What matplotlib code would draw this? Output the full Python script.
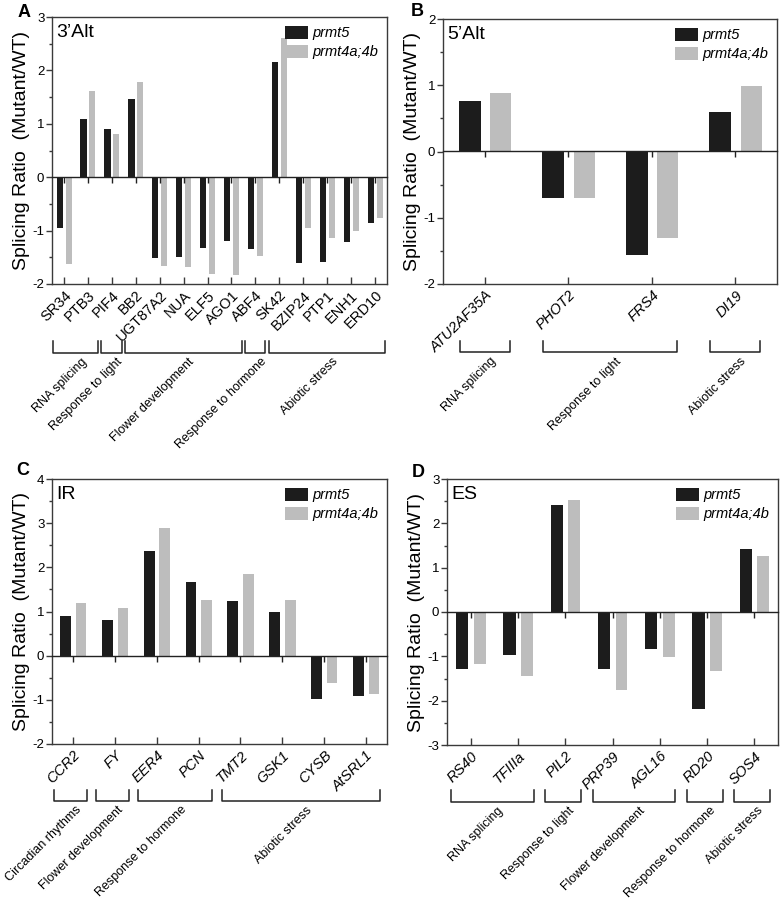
import numpy as np
import matplotlib
matplotlib.use("Agg")
import matplotlib.pyplot as plt
from matplotlib import transforms
from matplotlib.ticker import MultipleLocator

plt.rcParams["font.family"] = ["Liberation Sans", "DejaVu Sans"]

SERIES = ["prmt5", "prmt4a;4b"]

# A - 3'Alt
genes_a = ["SR34", "PTB3", "PIF4", "BB2", "UGT87A2", "NUA", "ELF5", "AGO1",
           "ABF4", "SK42", "BZIP24", "PTP1", "ENH1", "ERD10"]
prmt5_a = [-0.95, 1.09, 0.91, 1.46, -1.51, -1.50, -1.33, -1.19, -1.35, 2.16,
           -1.61, -1.58, -1.22, -0.86]
prmt4_a = [-1.63, 1.61, 0.81, 1.78, -1.66, -1.68, -1.81, -1.83, -1.47, 2.61,
           -0.96, -1.14, -1.00, -0.77]
groups_a = [("RNA splicing", 0, 1), ("Response to light", 2, 2),
            ("Flower development", 3, 7), ("Response to hormone", 8, 8),
            ("Abiotic stress", 9, 13)]

# B - 5'Alt
genes_b = ["ATU2AF35A", "PHOT2", "FRS4", "DI19"]
prmt5_b = [0.76, -0.70, -1.56, 0.59]
prmt4_b = [0.88, -0.70, -1.30, 0.99]
groups_b = [("RNA splicing", 0, 0), ("Response to light", 1, 2),
            ("Abiotic stress", 3, 3)]

# C - IR
genes_c = ["CCR2", "FY", "EER4", "PCN", "TMT2", "GSK1", "CYSB", "AtSRL1"]
prmt5_c = [0.89, 0.80, 2.36, 1.67, 1.24, 0.99, -0.99, -0.91]
prmt4_c = [1.20, 1.09, 2.90, 1.26, 1.84, 1.27, -0.62, -0.86]
groups_c = [("Circadian rhythms", 0, 0), ("Flower development", 1, 1),
            ("Response to hormone", 2, 3), ("Abiotic stress", 4, 7)]

# D - ES
genes_d = ["RS40", "TFIIIa", "PIL2", "PRP39", "AGL16", "RD20", "SOS4"]
prmt5_d = [-1.28, -0.96, 2.41, -1.29, -0.83, -2.18, 1.41]
prmt4_d = [-1.18, -1.45, 2.53, -1.77, -1.02, -1.33, 1.27]
groups_d = [("RNA splicing", 0, 1), ("Response to light", 2, 2),
            ("Flower development", 3, 4), ("Response to hormone", 5, 5),
            ("Abiotic stress", 6, 6)]

BLACK = "#1c1c1c"
GRAY = "#bdbdbd"
SPINE = "#3a3a3a"

fig = plt.figure(figsize=(7.8, 8.99), dpi=100)


def px_axes(l, t, r, b):
    W, H = 780, 899
    return fig.add_axes([l / W, 1 - b / H, (r - l) / W, (b - t) / H])


def panel(ax, title, genes, s1, s2, groups, ylim, italic, pads, bry):
    x = np.arange(len(genes))
    ax.bar(x - 0.18, s1, width=0.26, color=BLACK, label=SERIES[0], zorder=1)
    ax.bar(x + 0.19, s2, width=0.25, color=GRAY, label=SERIES[1], zorder=1)
    ax.set_xlim(-0.5, len(genes) - 0.5)
    ax.set_ylim(*ylim)
    ax.yaxis.set_major_locator(MultipleLocator(1))
    ax.yaxis.set_minor_locator(MultipleLocator(0.5))
    ax.yaxis.set_major_formatter(plt.FuncFormatter(lambda v, p: "%d" % v))
    ax.set_xticks(x)
    ax.set_xticklabels(genes, rotation=45, ha="right", va="top",
                       rotation_mode="anchor", fontsize=10.5,
                       style="italic" if italic else "normal")
    ax.tick_params(axis="x", direction="in", length=5, width=1, pad=3, color=SPINE)
    ax.tick_params(axis="y", which="major", direction="out", length=4, width=1,
                   labelsize=9.5, pad=1.5, color=SPINE)
    ax.tick_params(axis="y", which="minor", direction="out", length=2.5, width=1,
                   color=SPINE)
    for sp in ax.spines.values():
        sp.set_color(SPINE)
        sp.set_linewidth(1.0)
    ax.set_ylabel("Splicing Ratio  (Mutant/WT)", fontsize=14, labelpad=2)

    # zero line with its own ticks
    loc = (0 - ylim[0]) / (ylim[1] - ylim[0])
    sec = ax.secondary_xaxis(loc)
    sec.set_alignment("bottom")
    sec.set_xticks(x)
    sec.tick_params(direction="out", length=4, width=1, labelbottom=False,
                    color="#222222")
    sec.spines["bottom"].set_linewidth(1.0)
    sec.spines["bottom"].set_color("#222222")
    sec.set_zorder(3)

    ax.legend(frameon=False, loc="upper right", prop={"style": "italic", "size": 10.5},
              handlelength=1.6, handleheight=1.0, handletextpad=0.3,
              borderaxespad=0.2, labelspacing=0.3)
    ax.text(0.012, 0.975, title, transform=ax.transAxes, ha="left", va="top",
            fontsize=14)

    # category brackets below the gene names
    trans = transforms.blended_transform_factory(ax.transData, ax.transAxes)
    ttrans = trans + transforms.ScaledTranslation(0.05, -0.03, fig.dpi_scale_trans)
    ybot, ytop = bry
    for name, i0, i1 in groups:
        x0, x1 = i0 - pads[0], i1 + pads[1]
        ax.plot([x0, x0, x1, x1], [ytop, ybot, ybot, ytop], transform=trans,
                clip_on=False, color="#222222", lw=1.1)
        ax.text((x0 + x1) / 2, ybot, name, transform=ttrans, rotation=45,
                ha="right", va="top", rotation_mode="anchor", fontsize=9)


ax_a = px_axes(52, 17, 387, 284)
panel(ax_a, "3\u2019Alt", genes_a, prmt5_a, prmt4_a, groups_a, (-2, 3),
      False, (0.45, 0.42), (-0.258, -0.215))
ax_b = px_axes(443, 19, 777, 284)
panel(ax_b, "5\u2019Alt", genes_b, prmt5_b, prmt4_b, groups_b, (-2, 2),
      True, (0.3, 0.3), (-0.258, -0.215))
ax_c = px_axes(52, 479, 387, 744)
panel(ax_c, "IR", genes_c, prmt5_c, prmt4_c, groups_c, (-2, 4),
      True, (0.45, 0.33), (-0.215, -0.172))
ax_d = px_axes(447, 479, 778, 745)
panel(ax_d, "ES", genes_d, prmt5_d, prmt4_d, groups_d, (-3, 3),
      True, (0.42, 0.33), (-0.213, -0.17))

for letter, xp, yp in [("A", 18, 4), ("B", 411, 3), ("C", 16, 462), ("D", 412, 464)]:
    fig.text(xp / 780, 1 - yp / 899, letter, fontsize=13, fontweight="bold",
             ha="left", va="top")

fig.savefig("out.png", dpi=100)
